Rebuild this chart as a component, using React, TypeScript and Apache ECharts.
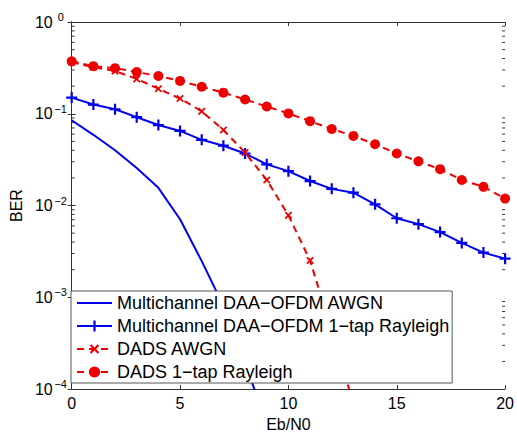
import React, { useEffect, useRef } from "react";
import * as echarts from "echarts";

const EBN0 = [0, 1, 2, 3, 4, 5, 6, 7, 8, 9, 10, 11, 12, 13, 14, 15, 16, 17, 18, 19, 20];
const MC_AWGN = [0.085, 0.059, 0.04, 0.0256, 0.0156, 0.0071, 0.00248, 0.00081, 0.000186, 0.000044];
const MC_RAY = [0.15, 0.126, 0.112, 0.0918, 0.0754, 0.065, 0.052, 0.0449, 0.0369, 0.0281, 0.0237, 0.0185, 0.0152, 0.0138, 0.0103, 0.00727, 0.00627, 0.00514, 0.00392, 0.00307, 0.00264];
const DADS_AWGN = [0.364, 0.322, 0.292, 0.24, 0.1875, 0.1465, 0.1063, 0.0666, 0.0378, 0.019, 0.00782, 0.00252, 0.00043, 0.00007];
const DADS_RAY = [0.373, 0.33, 0.314, 0.285, 0.258, 0.228, 0.197, 0.17, 0.143, 0.12, 0.101, 0.083, 0.0683, 0.0574, 0.0466, 0.0369, 0.0303, 0.0249, 0.019, 0.016, 0.0119];
const NAMES = [
  "Multichannel DAA\u2212OFDM AWGN",
  "Multichannel DAA\u2212OFDM 1\u2212tap Rayleigh",
  "DADS AWGN",
  "DADS 1\u2212tap Rayleigh",
];
const DECADES = [-4, -3, -2, -1];
const MINOR_MULT = [2, 3, 4, 5, 6, 7, 8, 9];

const FONT = "Liberation Sans, Arial, Helvetica, sans-serif";
const AXIS_COLOR = "#333";
const BLUE = "#0000ee";
const RED = "#ee0000";
const PLUS = "path://M4,0H6V4H10V6H6V10H4V6H0V4H4Z";
const LINE_ICON = "path://M0,0H0.05V0.05H0Z M0,6H35V8H0Z M34.95,13.95H35V14H34.95Z";

function pairs(vals: number[]) {
  return vals.map((v, i) => [EBN0[i], v]);
}

export default function App() {
  const ref = useRef<HTMLDivElement>(null);
  useEffect(() => {
    if (!ref.current) return;
    const chart = echarts.init(ref.current, null, { renderer: "svg" });
    const minor: number[][] = [];
    DECADES.forEach((d) => MINOR_MULT.forEach((m) => minor.push([0, m * Math.pow(10, d)])));
    const sup = (v: number) => {
      const e = Math.round(Math.log10(v));
      return `{b|10}{s|${e < 0 ? "\u2212" + -e : e}}`;
    };
    chart.setOption({
      animation: false,
      backgroundColor: "#fff",
      textStyle: { fontFamily: FONT },
      grid: { left: 71, right: 9, top: 22, bottom: 41 },
      legend: {
        data: [
          { name: NAMES[0], icon: LINE_ICON },
          { name: NAMES[1] },
          { name: NAMES[2] },
          { name: NAMES[3] },
        ],
        orient: "vertical",
        left: 71,
        top: 291,
        itemWidth: 35,
        itemHeight: 14,
        itemGap: 5,
        padding: [3, 3, 2, 5],
        backgroundColor: "#fff",
        borderColor: "#555",
        borderWidth: 1,
        borderRadius: 0,
        textStyle: { fontSize: 18, color: "#000", fontFamily: FONT },
      },
      xAxis: [
        {
          type: "value",
          min: 0,
          max: 20,
          interval: 5,
          name: "Eb/N0",
          nameLocation: "middle",
          nameGap: 22,
          nameTextStyle: { fontSize: 16, color: "#000", fontFamily: FONT },
          axisLine: { lineStyle: { color: AXIS_COLOR } },
          axisTick: { inside: true, length: 4, lineStyle: { color: AXIS_COLOR } },
          axisLabel: { fontSize: 16, color: "#000", margin: 6, fontFamily: FONT },
          splitLine: { show: false },
        },
        {
          type: "value",
          position: "top",
          min: 0,
          max: 20,
          interval: 5,
          axisLine: { show: true, lineStyle: { color: AXIS_COLOR } },
          axisTick: { inside: true, length: 4, lineStyle: { color: AXIS_COLOR } },
          axisLabel: { show: false },
          splitLine: { show: false },
        },
      ],
      yAxis: [
        {
          type: "log",
          logBase: 10,
          min: 1e-4,
          max: 1,
          name: "BER",
          nameLocation: "middle",
          nameGap: 45,
          nameTextStyle: { fontSize: 16, color: "#000", fontFamily: FONT },
          axisLine: { show: true, lineStyle: { color: AXIS_COLOR } },
          axisTick: { show: true, inside: true, length: 4, lineStyle: { color: AXIS_COLOR } },
          axisLabel: {
            margin: 4,
            formatter: sup,
            rich: {
              b: { fontSize: 16, color: "#000", fontFamily: FONT },
              s: { fontSize: 11, color: "#000", fontFamily: FONT, width: 14, align: "left", padding: [0, 0, 10, 1] },
            },
          },
          splitLine: { show: false },
        },
        {
          type: "log",
          logBase: 10,
          min: 1e-4,
          max: 1,
          position: "right",
          axisLine: { show: true, lineStyle: { color: AXIS_COLOR } },
          axisTick: { show: true, inside: true, length: 4, lineStyle: { color: AXIS_COLOR } },
          axisLabel: { show: false },
          splitLine: { show: false },
        },
      ],
      series: [
        {
          name: NAMES[0],
          type: "line",
          data: pairs(MC_AWGN),
          symbol: "none",
          lineStyle: { color: BLUE, width: 2 },
          itemStyle: { color: BLUE },
        },
        {
          name: NAMES[1],
          type: "line",
          data: pairs(MC_RAY),
          symbol: PLUS,
          symbolSize: 11,
          lineStyle: { color: BLUE, width: 2 },
          itemStyle: { color: BLUE },
        },
        {
          name: NAMES[2],
          type: "line",
          data: pairs(DADS_AWGN),
          symbol: PLUS,
          symbolRotate: 45,
          symbolSize: 9,
          lineStyle: { color: RED, width: 2, type: [7, 5] },
          itemStyle: { color: RED },
        },
        {
          name: NAMES[3],
          type: "line",
          data: pairs(DADS_RAY),
          symbol: "circle",
          symbolSize: 10,
          lineStyle: { color: RED, width: 2, type: [7, 5] },
          itemStyle: { color: RED },
        },
        {
          type: "custom",
          silent: true,
          data: minor,
          encode: { x: 0, y: 1 },
          z: 1,
          renderItem: (params: any, api: any) => {
            const v = api.value(1);
            const l = api.coord([0, v]);
            const r = api.coord([20, v]);
            return {
              type: "group",
              children: [
                { type: "line", shape: { x1: l[0], y1: l[1], x2: l[0] + 3, y2: l[1] }, style: { stroke: AXIS_COLOR, lineWidth: 1 } },
                { type: "line", shape: { x1: r[0], y1: r[1], x2: r[0] - 3, y2: r[1] }, style: { stroke: AXIS_COLOR, lineWidth: 1 } },
              ],
            };
          },
        },
      ],
    });
    return () => chart.dispose();
  }, []);
  return <div ref={ref} style={{ width: 517, height: 437, position: "absolute", left: 0, top: 0 }} />;
}
